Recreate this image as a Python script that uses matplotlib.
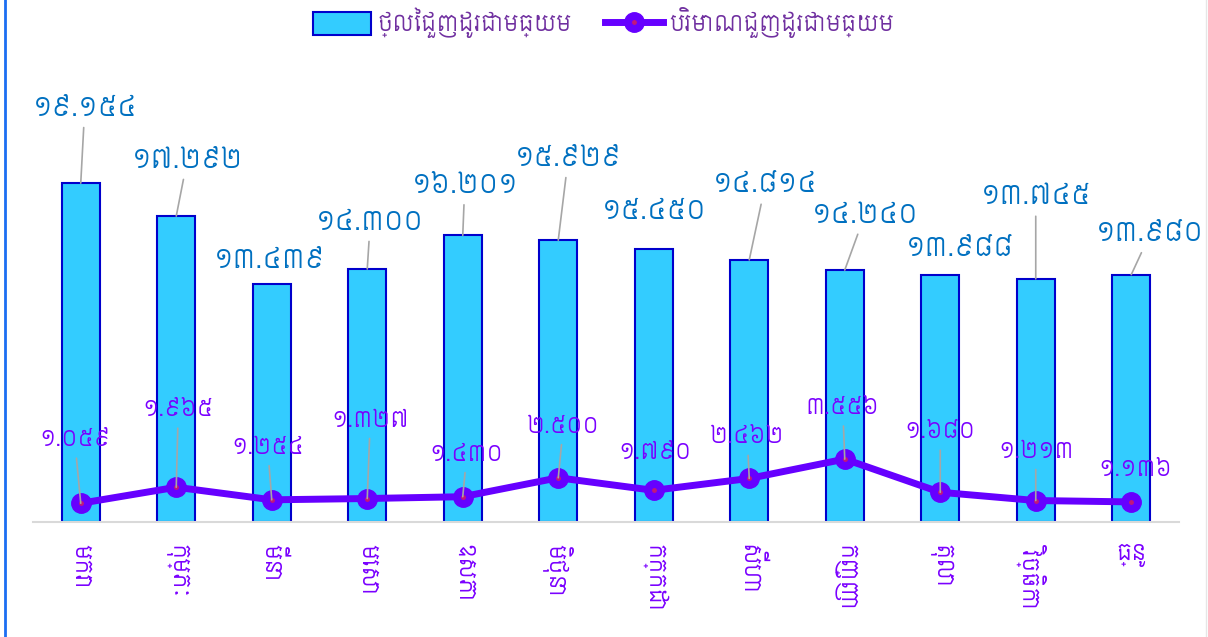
import matplotlib
matplotlib.use("Agg")
import matplotlib.pyplot as plt
from matplotlib.lines import Line2D
from matplotlib.patches import Patch
from matplotlib.legend_handler import HandlerTuple
import numpy as np

plt.rcParams['font.family'] = ['Siemreap', 'Battambang', 'Noto Sans Khmer', 'DejaVu Sans']

# ទិន្នន័យ
months = ['មករា', 'កុម្ភៈ', 'មីនា', 'មេសា', 'ឧសភា', 'មិថុនា',
          'កក្កដា', 'សីហា', 'កញ្ញា', 'តុលា', 'វិច្ឆិកា', 'ធ្នូ']
avg_price = [19.154, 17.292, 13.439, 14.300, 16.201, 15.929,
             15.450, 14.814, 14.240, 13.988, 13.745, 13.980]
avg_volume = [1.059, 1.965, 1.254, 1.327, 1.430, 2.500,
              1.790, 2.462, 3.556, 1.680, 1.213, 1.136]
price_label = 'ថ្លៃជួញដូរជាមធ្យម'
volume_label = 'បរិមាណជួញដូរជាមធ្យម'

# ទីតាំងស្លាក (pixels ពីចំណុចទិន្នន័យ)
price_offsets = [(4, 75), (11, 56), (-2, 24), (3, 47), (2, 50), (10, 82),
                 (0, 37), (16, 75), (20, 55), (20, 26), (0, 82), (19, 41)]
volume_offsets = [(-6, 63), (2, 77), (-4, 52), (3, 78), (4, 42), (5, 51),
                  (1, 37), (-2, 41), (-2, 51), (0, 60), (0, 49), (4, 32)]

KH_DIGITS = str.maketrans('0123456789', '០១២៣៤៥៦៧៨៩')


def kh(value):
    return f'{value:.3f}'.translate(KH_DIGITS)


bar_color = '#33CCFF'
bar_edge = '#0000CC'
line_color = '#6600FF'
price_text = '#0070C0'
volume_text = '#7A00FF'
leader = '#A6A6A6'

fig = plt.figure(figsize=(12.08, 6.37), dpi=100)
ax = fig.add_axes([33 / 1208, 115 / 637, 1146 / 1208, 460 / 637])

x = np.arange(len(months))
ax.bar(x, avg_price, 0.4, color=bar_color, edgecolor=bar_edge, linewidth=1.5, zorder=2)
ax.plot(x, avg_volume, color=line_color, linewidth=5, marker='o',
        markersize=14, zorder=3)
ax.plot(x, avg_volume, linestyle='none', marker='o', markersize=2.5,
        color='#C2187A', zorder=4)


def add_labels(values, offsets, color, size):
    for i, (v, (dx, dy)) in enumerate(zip(values, offsets)):
        arrow = None
        if dy >= 40:
            arrow = dict(arrowstyle='-', color=leader, linewidth=1.2,
                         shrinkA=3, shrinkB=0)
        ax.annotate(kh(v), xy=(i, v), xytext=(dx, dy), textcoords='offset pixels',
                    ha='center', va='center', color=color, fontsize=size,
                    arrowprops=arrow, zorder=5)


add_labels(avg_price, price_offsets, price_text, 18.5)
add_labels(avg_volume, volume_offsets, volume_text, 15.5)

ax.set_xlim(-0.5, len(months) - 0.5)
ax.set_ylim(0, 26)
ax.set_yticks([])
for side in ['left', 'right', 'top']:
    ax.spines[side].set_visible(False)
ax.spines['bottom'].set_color('#D9D9D9')
ax.spines['bottom'].set_linewidth(1.5)
ax.set_xticks(x)
ax.set_xticklabels(months, fontsize=16, color=volume_text)
ax.tick_params(axis='x', length=0, pad=16)
for lbl in ax.get_xticklabels()[:-1]:
    lbl.set_rotation(270)
    lbl.set_va('top')
    lbl.set_ha('center')
ax.get_xticklabels()[-1].set_va('top')

# legend
h_bar = Patch(facecolor=bar_color, edgecolor=bar_edge, linewidth=1.5)
h_line = Line2D([], [], color=line_color, linewidth=5, marker='o', markersize=14)
h_dot = Line2D([], [], linestyle='none', marker='o', markersize=2.5, color='#C2187A')
fig.legend([h_bar, (h_line, h_dot)], [price_label, volume_label],
           handler_map={tuple: HandlerTuple(ndivide=1)},
           loc='upper center', bbox_to_anchor=(0.5, 1.02), ncol=2, frameon=False,
           fontsize=16, labelcolor='#7030A0', handlelength=2.6, handleheight=1.2,
           columnspacing=1.5, handletextpad=0.3)

# ស៊ុម
fig.add_artist(Line2D([5 / 1208, 5 / 1208], [0, 1], color='#1C6EF2', linewidth=2))
fig.add_artist(Line2D([1206 / 1208, 1206 / 1208], [0, 1], color='#E6E6E6', linewidth=1))

fig.savefig('out.png', dpi=100)
